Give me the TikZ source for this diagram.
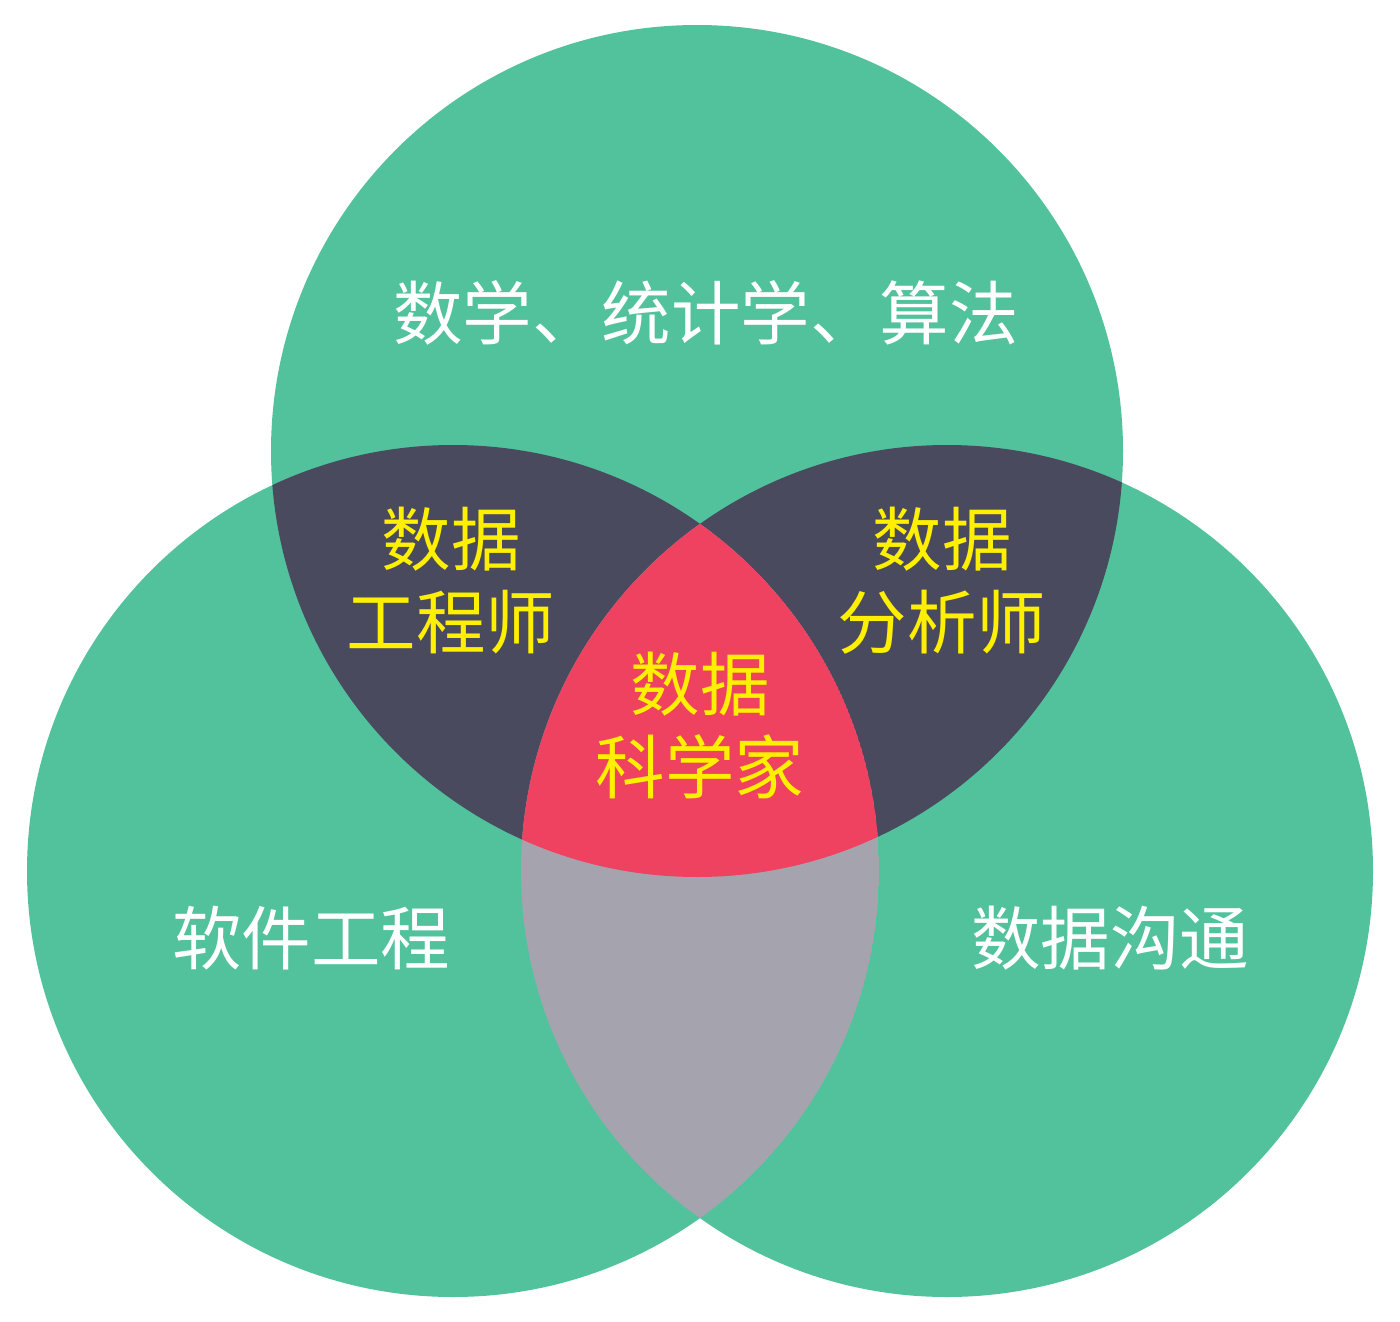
\documentclass[tikz,border=0pt]{standalone}
\usepackage{fontspec}
\newfontfamily\cjk{Noto Sans CJK SC}
\definecolor{vgreen}{HTML}{52C29C}
\definecolor{vdark}{HTML}{4A4A5E}
\definecolor{vred}{HTML}{EF4261}
\definecolor{vgray}{HTML}{A5A4AE}
\definecolor{vyellow}{HTML}{FFEF00}
\begin{document}
\begin{tikzpicture}[x=1pt,y=-1pt,
  lbl/.style={font=\cjk\fontsize{69.5}{83}\selectfont, inner sep=0pt, align=center},
  wlbl/.style={lbl, text=white},
  ylbl/.style={lbl, text=vyellow}]
\useasboundingbox (0,0) rectangle (1400,1322);
\def\R{426pt}
\coordinate (T) at (697,451);
\coordinate (L) at (453,871);
\coordinate (B) at (947,871);
\fill[vgreen] (T) circle[radius=\R] (L) circle[radius=\R] (B) circle[radius=\R];
\begin{scope}
  \clip (T) circle[radius=\R];
  \fill[vdark] (L) circle[radius=\R] (B) circle[radius=\R];
\end{scope}
\begin{scope}
  \clip (L) circle[radius=\R];
  \clip (B) circle[radius=\R];
  \fill[vgray] (L) circle[radius=\R];
  \clip (T) circle[radius=\R];
  \fill[vred] (T) circle[radius=\R];
\end{scope}
\node[wlbl] (math) at (706,313) {数学、统计学、算法};
\node[wlbl] (soft) at (311,938) {软件工程};
\node[wlbl] (comm) at (1110,938) {数据沟通};
\node[ylbl] (eng) at (451,581) {数据\\工程师};
\node[ylbl] (ana) at (942,581) {数据\\分析师};
\node[ylbl] (sci) at (700,725) {数据\\科学家};
\end{tikzpicture}
\end{document}
